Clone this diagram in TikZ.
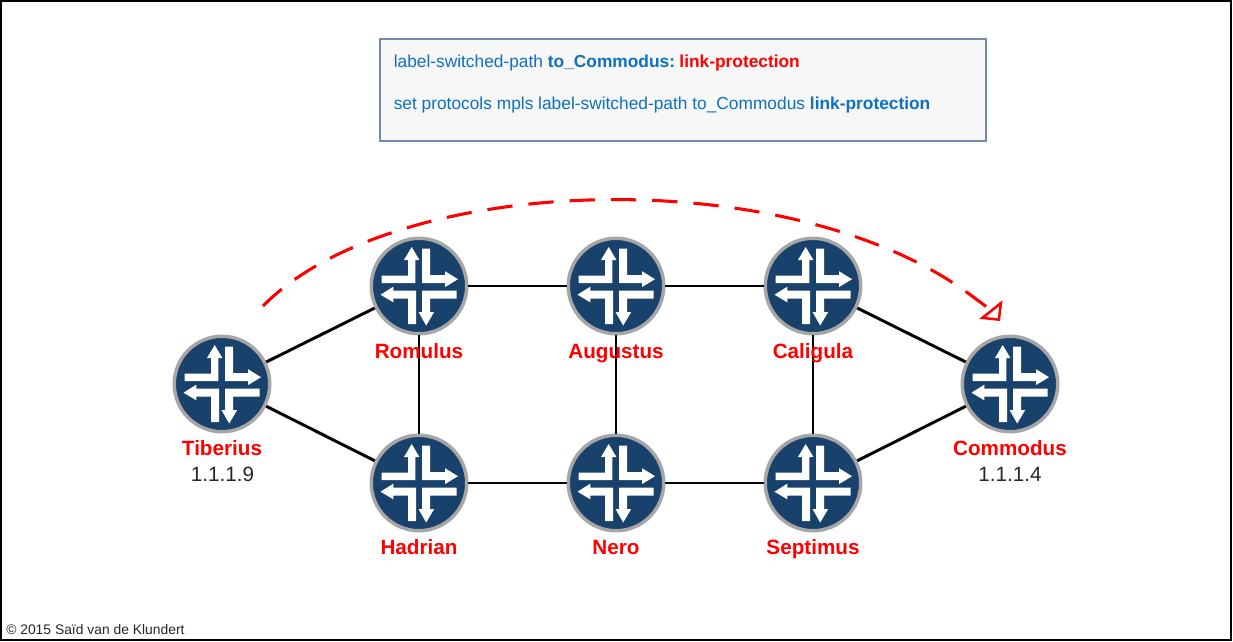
\documentclass[tikz,border=0pt]{standalone}
\usepackage{fontspec}
\setmainfont{Liberation Sans}
\usetikzlibrary{positioning, arrows.meta, calc}

\definecolor{routerblue}{RGB}{24,65,108}
\definecolor{routergray}{RGB}{166,166,166}
\definecolor{boxblue}{RGB}{118,138,176}
\definecolor{boxfill}{RGB}{247,247,247}
\definecolor{cmdblue}{RGB}{14,112,192}

% router symbol: four white L-shaped arrows around the node centre
\newcommand{\routerarrows}{%
    \begin{scope}[shift={(path picture bounding box.center)}, x=0.75pt, y=-0.75pt]
        \fill[white] (-37.5,-10.5) -- (-11,-10.5) -- (-11,-26) -- (-15,-26) -- (-7.3,-39) -- (0.4,-26) -- (-3.6,-26) -- (-3.6,-3) -- (-37.5,-3) -- cycle;
        \fill[white] (3,-37.5) -- (11,-37.5) -- (11,-10.8) -- (26,-10.8) -- (26,-14.8) -- (39,-6.8) -- (26,1.1) -- (26,-3) -- (3,-3) -- cycle;
        \fill[white] (-38.5,8.7) -- (-25.7,0.7) -- (-25.7,4.7) -- (-3,4.7) -- (-3,38) -- (-11,38) -- (-11,12.7) -- (-25.7,12.7) -- (-25.7,16.3) -- cycle;
        \fill[white] (3,4.7) -- (37.5,4.7) -- (37.5,12.7) -- (11,12.7) -- (11,26) -- (15.2,26) -- (7.2,39.5) -- (-0.5,26) -- (3,26) -- cycle;
    \end{scope}}

\begin{document}
\begin{tikzpicture}[
    x=0.75pt, y=-0.75pt,
    router/.style={circle, draw=routergray, line width=2.6pt, fill=routerblue,
        minimum size=71.6pt, inner sep=0pt, path picture={\routerarrows}},
    link/.style={line width=2.2pt, black},
    rname/.style={font=\bfseries\fontsize{15.5}{17}\selectfont, text=red, inner sep=0pt, anchor=base},
    raddr/.style={font=\fontsize{15.5}{17}\selectfont, text=black!85, inner sep=0pt, anchor=base},
    cmd/.style={font=\fontsize{13}{15}\selectfont, text=cmdblue, inner sep=0pt, anchor=base west}
]
    \useasboundingbox (0,0) rectangle (1233,642);

    % Frame
    \node[draw=black, line width=0.9pt, minimum width=922.5pt, minimum height=479.25pt, inner sep=0pt] (frame) at (616,320.5) {};

    % Command box
    \node[draw=boxblue, fill=boxfill, line width=1.5pt, minimum width=454pt, minimum height=76.5pt, inner sep=0pt] (cmdbox) at (683,90) {};
    \node[cmd] (line1) at (393.5,68) {label-switched-path \textbf{to\_Commodus:}\kern-1.5pt{} \textcolor{red}{\textbf{link-protection}}};
    \node[cmd] (line2) at (393.5,110) {set protocols mpls label-switched-path to\_Commodus \textbf{link-protection}};

    % Routers
    \node[router] (tiberius) at (222,384) {};
    \node[router] (romulus) at (419,286) {};
    \node[router] (augustus) at (616,286) {};
    \node[router] (caligula) at (813,286) {};
    \node[router] (hadrian) at (419,483) {};
    \node[router] (nero) at (616,483) {};
    \node[router] (septimus) at (813,483) {};
    \node[router] (commodus) at (1010,384) {};

    % Links
    \draw[link] (tiberius) -- (romulus);
    \draw[link] (tiberius) -- (hadrian);
    \draw[link] (romulus) -- (augustus);
    \draw[link] (augustus) -- (caligula);
    \draw[link] (caligula) -- (commodus);
    \draw[link] (hadrian) -- (nero);
    \draw[link] (nero) -- (septimus);
    \draw[link] (septimus) -- (commodus);
    \draw[link] (romulus) -- (hadrian);
    \draw[link] (augustus) -- (nero);
    \draw[link] (caligula) -- (septimus);

    % Names
    \node[rname] (romulustxt) at (419,358) {Romulus};
    \node[rname] (augustustxt) at (616,358) {Augustus};
    \node[rname] (caligulatxt) at (813,358) {Caligula};
    \node[rname] (hadriantxt) at (419,554) {Hadrian};
    \node[rname] (nerotxt) at (616,554) {Nero};
    \node[rname] (septimustxt) at (813,554) {Septimus};
    \node[rname] (tiberiustxt) at (222,455) {Tiberius};
    \node[rname] (commodustxt) at (1010,455) {Commodus};
    \node[raddr] (tiberiusip) at (222.5,481) {1.1.1.9};
    \node[raddr] (commodusip) at (1010,481) {1.1.1.4};

    % LSP
    \coordinate (lspstart) at (263,306);
    \coordinate (lspbend) at (972,296);
    \coordinate (lspend) at (1000,321);
    \draw[red, line width=2.3pt, dash pattern=on 19pt off 12pt, -{Triangle[open, length=11pt, width=22pt, line width=1.9pt]}]
        (lspstart) .. controls (395,172) and (790,160) .. (lspbend)
        .. controls (982,303.5) and (992,311) .. (lspend);

    % Copyright
    \node[font=\fontsize{10.4}{12}\selectfont, text=black!85, inner sep=0pt, anchor=base west] (copyright) at (6,634) {© 2015 Saïd van de Klundert};
\end{tikzpicture}
\end{document}
